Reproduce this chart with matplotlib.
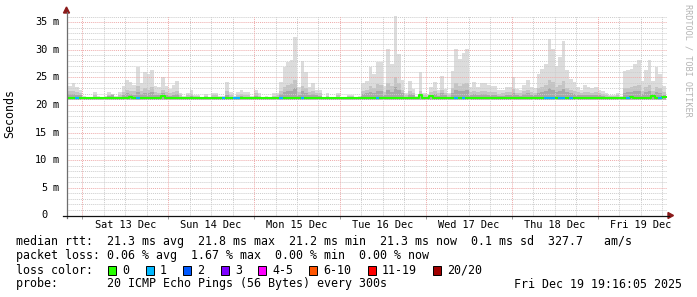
import numpy as np
import matplotlib.pyplot as plt
from matplotlib.patches import Rectangle, Polygon
from matplotlib.lines import Line2D

# =========================
# DATA (hourly bins, hours relative to Sat 13 Dec 00:00)
# =========================
hours = np.arange(-5, 163)

# top of the smoke (slowest ping) per hour, ms
smoke_max = [
    22.1, 23.4, 24.0, 23.2, 22.7, 21.7, 21.5, 21.5, 22.3, 21.6, 21.5, 21.6,
    22.4, 22.0, 21.6, 22.3, 23.5, 24.6, 24.2, 23.7, 26.9, 23.9, 26.0, 25.6,
    26.3, 23.4, 23.2, 25.1, 23.4, 22.9, 23.7, 24.4, 22.2, 21.6, 22.2, 22.7,
    21.9, 21.9, 21.5, 22.0, 21.5, 22.1, 22.1, 21.6, 21.6, 24.2, 22.3, 21.6,
    22.3, 22.7, 22.3, 22.3, 21.6, 22.8, 22.1, 21.5, 21.6, 21.5, 22.1, 22.1,
    24.2, 26.9, 27.7, 28.2, 32.3, 23.3, 28.0, 25.9, 23.3, 23.9, 22.8, 22.7,
    21.5, 22.1, 21.5, 21.5, 22.2, 21.5, 21.5, 21.9, 21.9, 21.5, 21.6, 23.9,
    24.4, 26.9, 25.7, 27.7, 27.7, 23.4, 30.2, 27.4, 36.2, 29.3, 24.6, 22.1,
    24.3, 22.9, 21.6, 26.0, 22.1, 22.0, 23.3, 24.2, 22.7, 25.2, 22.9, 22.1,
    26.1, 30.2, 28.3, 29.5, 30.2, 23.3, 24.2, 23.3, 24.0, 24.0, 23.7, 23.4,
    23.4, 22.7, 22.8, 23.3, 23.3, 25.0, 22.9, 22.8, 23.7, 24.6, 23.2, 23.0,
    25.6, 26.6, 27.5, 32.0, 30.1, 27.1, 28.7, 31.6, 26.4, 24.7, 24.2, 23.3,
    22.7, 23.6, 23.2, 23.0, 23.3, 22.7, 22.6, 22.1, 21.8, 21.8, 22.1, 21.6,
    26.1, 26.4, 26.6, 27.5, 28.2, 24.3, 26.3, 28.1, 24.4, 26.9, 25.7, 23.5,
]

# inner smoke band
smoke_mid = [
    21.8, 22.5, 22.6, 22.4, 22.2, 21.5, 21.4, 21.4, 21.8, 21.4, 21.4, 21.4,
    21.9, 22.0, 21.4, 21.8, 22.3, 22.8, 22.6, 22.5, 23.5, 22.6, 23.0, 22.8,
    23.2, 22.3, 22.2, 22.8, 22.3, 22.1, 22.4, 22.6, 21.8, 21.4, 21.8, 22.0,
    21.6, 21.6, 21.4, 21.7, 21.4, 21.8, 21.8, 21.4, 21.4, 22.5, 21.8, 21.4,
    21.8, 22.0, 21.8, 21.8, 21.4, 22.1, 21.7, 21.4, 21.4, 21.4, 21.7, 21.8,
    22.6, 23.3, 23.6, 23.8, 24.5, 22.4, 23.5, 23.0, 22.3, 22.6, 22.2, 22.1,
    21.4, 21.7, 21.4, 21.4, 21.8, 21.4, 21.4, 21.6, 21.6, 21.4, 21.4, 22.6,
    22.8, 23.5, 23.0, 23.8, 23.6, 22.4, 24.0, 23.4, 25.0, 24.0, 22.8, 21.8,
    22.6, 22.2, 21.4, 22.5, 21.8, 21.7, 22.3, 22.6, 22.1, 22.8, 22.2, 21.8,
    23.0, 24.0, 23.5, 23.8, 24.0, 22.3, 22.6, 22.3, 22.6, 22.6, 22.4, 22.3,
    22.3, 22.0, 22.1, 22.3, 22.3, 22.9, 22.2, 22.1, 22.5, 22.7, 22.3, 22.2,
    23.0, 23.3, 23.6, 24.5, 24.1, 23.3, 23.7, 24.3, 23.1, 22.7, 22.6, 22.3,
    22.1, 22.4, 22.3, 22.2, 22.3, 22.1, 22.0, 21.8, 21.6, 21.6, 21.8, 21.4,
    23.0, 23.1, 23.2, 23.5, 23.7, 22.6, 23.2, 23.6, 22.6, 23.3, 23.0, 22.4,
]

# core smoke band (closest to the median)
smoke_dark = [
    21.6, 22.0, 22.0, 21.9, 21.8, 21.4, 21.3, 21.3, 21.5, 21.3, 21.3, 21.3,
    21.6, 21.9, 21.3, 21.5, 21.8, 22.1, 22.0, 21.9, 22.4, 22.0, 22.2, 22.1,
    22.3, 21.8, 21.8, 22.1, 21.8, 21.7, 21.9, 22.0, 21.5, 21.3, 21.5, 21.6,
    21.4, 21.4, 21.3, 21.5, 21.3, 21.5, 21.5, 21.3, 21.3, 21.9, 21.5, 21.3,
    21.5, 21.6, 21.5, 21.5, 21.3, 21.7, 21.5, 21.3, 21.3, 21.3, 21.5, 21.5,
    22.0, 22.3, 22.5, 22.6, 23.0, 21.9, 22.5, 22.2, 21.8, 22.0, 21.8, 21.7,
    21.3, 21.5, 21.3, 21.3, 21.5, 21.3, 21.3, 21.4, 21.4, 21.3, 21.3, 22.0,
    22.1, 22.4, 22.2, 22.6, 22.5, 21.9, 22.7, 22.4, 23.3, 22.7, 22.1, 21.5,
    22.0, 21.8, 21.3, 22.0, 21.5, 21.5, 21.9, 22.0, 21.7, 22.1, 21.8, 21.5,
    22.2, 22.7, 22.5, 22.6, 22.7, 21.9, 22.0, 21.9, 22.0, 22.0, 21.9, 21.9,
    21.9, 21.7, 21.7, 21.9, 21.9, 22.2, 21.8, 21.7, 22.0, 22.1, 21.9, 21.8,
    22.2, 22.4, 22.6, 23.0, 22.8, 22.4, 22.6, 22.9, 22.3, 22.1, 22.0, 21.9,
    21.8, 21.9, 21.9, 21.8, 21.9, 21.8, 21.7, 21.5, 21.4, 21.4, 21.5, 21.3,
    22.2, 22.3, 22.3, 22.5, 22.6, 22.0, 22.3, 22.5, 22.0, 22.3, 22.2, 21.9,
]
smoke_min = 20.95

median_rtt = [
    21.3, 21.3, 21.3, 21.3, 21.3, 21.3, 21.3, 21.3, 21.3, 21.3, 21.3, 21.3,
    21.3, 21.3, 21.3, 21.3, 21.3, 21.3, 21.5, 21.3, 21.3, 21.3, 21.3, 21.3,
    21.3, 21.3, 21.3, 21.6, 21.3, 21.3, 21.3, 21.3, 21.3, 21.3, 21.3, 21.3,
    21.3, 21.3, 21.3, 21.3, 21.3, 21.3, 21.3, 21.3, 21.3, 21.3, 21.3, 21.3,
    21.3, 21.3, 21.3, 21.3, 21.3, 21.3, 21.3, 21.3, 21.3, 21.3, 21.3, 21.3,
    21.3, 21.3, 21.3, 21.3, 21.3, 21.3, 21.3, 21.3, 21.3, 21.3, 21.3, 21.3,
    21.3, 21.3, 21.3, 21.3, 21.3, 21.3, 21.3, 21.3, 21.3, 21.3, 21.3, 21.3,
    21.3, 21.3, 21.3, 21.3, 21.3, 21.3, 21.3, 21.3, 21.3, 21.3, 21.3, 21.3,
    21.3, 21.3, 21.3, 21.8, 21.3, 21.3, 21.6, 21.3, 21.3, 21.3, 21.3, 21.3,
    21.3, 21.3, 21.3, 21.3, 21.3, 21.3, 21.3, 21.3, 21.3, 21.3, 21.3, 21.3,
    21.3, 21.3, 21.3, 21.3, 21.3, 21.3, 21.3, 21.3, 21.3, 21.3, 21.3, 21.3,
    21.3, 21.3, 21.3, 21.3, 21.3, 21.3, 21.3, 21.3, 21.3, 21.3, 21.3, 21.3,
    21.3, 21.3, 21.3, 21.3, 21.3, 21.3, 21.3, 21.3, 21.3, 21.3, 21.3, 21.3,
    21.3, 21.3, 21.5, 21.3, 21.3, 21.3, 21.3, 21.3, 21.6, 21.3, 21.3, 21.5,
]

# lost pings (of 20) per hour
loss = [
    0, 0, 0, 1, 0, 0, 0, 0, 0, 0, 0, 0,
    0, 0, 0, 0, 0, 0, 0, 0, 1, 0, 0, 0,
    0, 0, 0, 0, 0, 0, 0, 0, 0, 0, 0, 0,
    0, 0, 0, 0, 0, 0, 0, 0, 1, 0, 0, 1,
    1, 0, 0, 0, 0, 0, 0, 0, 0, 0, 0, 0,
    1, 0, 0, 0, 0, 0, 1, 0, 0, 0, 0, 0,
    0, 0, 0, 0, 0, 0, 0, 0, 0, 0, 0, 0,
    0, 0, 0, 1, 0, 0, 0, 0, 0, 0, 0, 0,
    0, 0, 0, 0, 0, 0, 0, 0, 0, 0, 0, 0,
    0, 1, 0, 1, 0, 0, 0, 0, 0, 0, 0, 0,
    0, 0, 0, 0, 0, 0, 0, 0, 0, 0, 0, 0,
    0, 0, 1, 1, 1, 0, 1, 1, 0, 1, 0, 0,
    0, 0, 0, 0, 0, 0, 0, 0, 0, 0, 0, 0,
    0, 1, 0, 0, 0, 0, 0, 0, 0, 0, 1, 0,
]

day_labels = ["Sat 13 Dec", "Sun 14 Dec", "Mon 15 Dec", "Tue 16 Dec",
              "Wed 17 Dec", "Thu 18 Dec", "Fri 19 Dec"]

loss_names = ["0", "1", "2", "3", "4-5", "6-10", "11-19", "20/20"]
loss_cols = ["#26ff00", "#00b8ff", "#0059ff", "#7e00ff",
             "#ff00ff", "#ff5500", "#ff0000", "#a10000"]

# =========================
# FIGURE
# =========================
W, H = 697, 297
MONO = "DejaVu Sans Mono"
plt.rcParams["font.family"] = MONO

fig = plt.figure(figsize=(W / 100, H / 100), dpi=100)
fig.patch.set_facecolor("white")

X0, X1, YTOP, YBOT = 67, 667, 15.5, 215.5
ax = fig.add_axes([X0 / W, 1 - YBOT / H, (X1 - X0) / W, (YBOT - YTOP) / H])
ax.set_xlim(-4.27, 163.38)
ax.set_ylim(0, 36.2)
for s in ax.spines.values():
    s.set_visible(False)


def fx(x):
    return x / W


def fy(y):
    return 1 - y / H


# smoke
ax.bar(hours, np.array(smoke_max) - smoke_min, bottom=smoke_min, width=1,
       align="edge", color="#dcdcdc", linewidth=0, zorder=1)
ax.bar(hours, np.array(smoke_mid) - smoke_min, bottom=smoke_min, width=1,
       align="edge", color="#c4c4c4", linewidth=0, zorder=1)
ax.bar(hours, np.array(smoke_dark) - smoke_min, bottom=smoke_min, width=1,
       align="edge", color="#a8a8a8", linewidth=0, zorder=1)

# grid (dotted, drawn over the smoke)
dot = (0, (1, 1))
for y in range(1, 37):
    if y % 5:
        ax.axhline(y, color="#cccccc", lw=0.7, ls=dot, zorder=2)
for x in range(0, 163, 6):
    if x % 24:
        ax.axvline(x, color="#cccccc", lw=0.7, ls=dot, zorder=2)
for y in range(5, 36, 5):
    ax.axhline(y, color="#eeaaaa", lw=0.7, ls=dot, zorder=2)
for x in range(0, 163, 24):
    ax.axvline(x, color="#eeaaaa", lw=0.7, ls=dot, zorder=2)

# median, coloured by loss
ax.step(np.r_[hours, hours[-1] + 1], np.r_[median_rtt, median_rtt[-1]],
        where="post", color=loss_cols[0], lw=1.5, zorder=3)
for h, m, l in zip(hours, median_rtt, loss):
    if l > 0:
        ax.hlines(m, h, h + 1, color=loss_cols[l], lw=1.5, zorder=4)

# ticks / labels
ax.set_xticks(np.arange(12, 163, 24), day_labels)
ax.set_xticks(np.arange(0, 163, 24), minor=True)
ax.tick_params(axis="x", which="major", length=0, pad=3, labelsize=7.4)
ax.tick_params(axis="x", which="minor", length=2.5, width=0.7,
               color="#999999", direction="out")
ax.set_yticks([])
for v in range(0, 36, 5):
    ax.text(-0.0326, v, str(v), transform=ax.get_yaxis_transform(),
            ha="right", va="center", fontsize=7.4)
    if v:
        ax.text(-0.0235, v, "m", transform=ax.get_yaxis_transform(),
                ha="left", va="center", fontsize=7.4)

# axes lines + arrows
fig.add_artist(Line2D([fx(66.5), fx(66.5)], [fy(218), fy(12)],
                      color="#6e6e6e", lw=0.9))
fig.add_artist(Line2D([fx(63), fx(669)], [fy(215.5), fy(215.5)],
                      color="#111111", lw=0.9))
fig.add_artist(Polygon([[fx(66.5), fy(7)], [fx(63.5), fy(13)], [fx(69.5), fy(13)]],
                       closed=True, color="#8b1a1a"))
fig.add_artist(Polygon([[fx(673.5), fy(215.5)], [fx(668), fy(212.5)],
                        [fx(668), fy(218.5)]], closed=True, color="#8b1a1a"))

fig.text(fx(10), fy(114), "Seconds", rotation=90, ha="center", va="center",
         fontsize=8.4)
fig.text(fx(688), fy(60), "RRDTOOL / TOBI OETIKER", rotation=270,
         ha="center", va="center", fontsize=6.1, color="#b4b4b4")

# =========================
# LEGEND
# =========================
fs = 8.4
fig.text(fx(16), fy(241), "median rtt:  21.3 ms avg  21.8 ms max  21.2 ms min  "
         "21.3 ms now  0.1 ms sd  327.7   am/s", va="center", fontsize=fs)
fig.text(fx(16), fy(256), "packet loss: 0.06 % avg  1.67 % max  0.00 % min  "
         "0.00 % now", va="center", fontsize=fs)
fig.text(fx(16), fy(270), "loss color:", va="center", fontsize=fs)
sq_x = [108, 146, 183, 221, 258, 309, 368, 433]
for sx, name, col in zip(sq_x, loss_names, loss_cols):
    fig.add_artist(Rectangle((fx(sx), fy(274.5)), 8 / W, 8.5 / H,
                             facecolor=col, edgecolor="black", lw=0.7))
    fig.text(fx(sx + 14), fy(270), name, va="center", fontsize=fs)
fig.text(fx(16), fy(284), "probe:       20 ICMP Echo Pings (56 Bytes) every 300s",
         va="center", fontsize=fs)
fig.text(fx(682), fy(284), "Fri Dec 19 19:16:05 2025", ha="right",
         va="center", fontsize=fs)

fig.savefig("out.png", dpi=100, facecolor="white")
